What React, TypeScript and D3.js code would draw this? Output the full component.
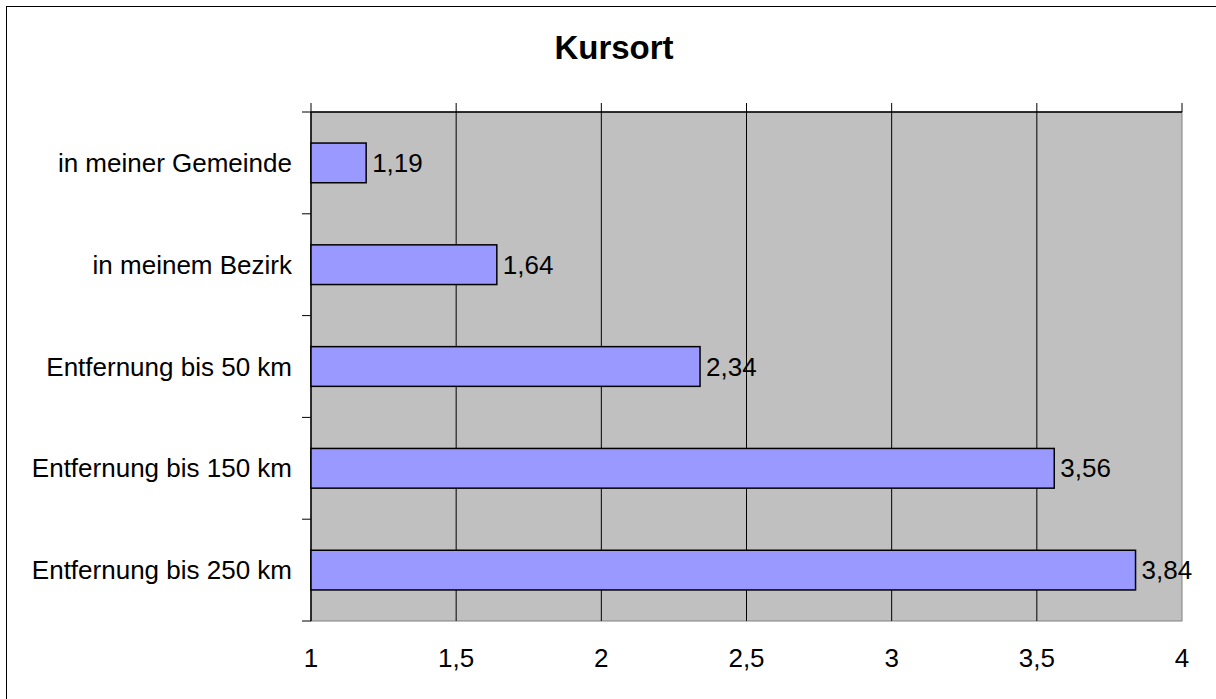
import React from "react";
import * as d3 from "d3";

const categories = [
  "in meiner Gemeinde",
  "in meinem Bezirk",
  "Entfernung bis 50 km",
  "Entfernung bis 150 km",
  "Entfernung bis 250 km",
];
const values = [1.19, 1.64, 2.34, 3.56, 3.84];
const tickValues = [1, 1.5, 2, 2.5, 3, 3.5, 4];
const title = "Kursort";

const fmt = (v: number) => String(v).replace(".", ",");

export default function App() {
  const width = 1216;
  const height = 699;
  const plot = { left: 311, right: 1182, top: 112, bottom: 621 };
  const font = "'Liberation Sans', Arial, sans-serif";
  const fs = 26;

  const x = d3.scaleLinear().domain([1, 4]).range([plot.left, plot.right]);
  const y = d3
    .scaleBand()
    .domain(categories)
    .range([plot.top, plot.bottom])
    .paddingInner(0.61)
    .paddingOuter(0.305);
  const band = d3.scaleBand().domain(categories).range([plot.top, plot.bottom]);
  const edges = [...categories.map((c) => band(c) as number), plot.bottom];

  return (
    <svg
      width={width}
      height={height}
      style={{ position: "absolute", left: 0, top: 0, background: "#fff" }}
    >
      <rect x={6.5} y={6.5} width={1300} height={800} fill="none" stroke="#000" />
      <text
        x={614}
        y={59}
        textAnchor="middle"
        fontFamily={font}
        fontWeight="bold"
        fontSize={33}
      >
        {title}
      </text>

      <rect
        x={plot.left}
        y={plot.top}
        width={plot.right - plot.left}
        height={plot.bottom - plot.top}
        fill="#c0c0c0"
        stroke="#808080"
      />

      {tickValues.slice(1, -1).map((t) => (
        <line
          key={`g${t}`}
          x1={x(t)}
          x2={x(t)}
          y1={plot.top}
          y2={plot.bottom}
          stroke="#000"
        />
      ))}

      {/* value axis at top, labels at the bottom */}
      <line x1={plot.left} x2={plot.right} y1={plot.top} y2={plot.top} stroke="#000" strokeWidth={1.5} />
      {tickValues.map((t) => (
        <line key={`t${t}`} x1={x(t)} x2={x(t)} y1={plot.top - 9} y2={plot.top} stroke="#000" />
      ))}
      {tickValues.map((t) => (
        <text
          key={`l${t}`}
          x={x(t)}
          y={667}
          textAnchor="middle"
          fontFamily={font}
          fontSize={fs}
        >
          {fmt(t)}
        </text>
      ))}

      {/* category axis */}
      <line x1={plot.left} x2={plot.left} y1={plot.top} y2={plot.bottom} stroke="#000" strokeWidth={1.5} />
      {edges.map((e, i) => (
        <line key={`c${i}`} x1={plot.left - 9} x2={plot.left} y1={e} y2={e} stroke="#000" />
      ))}
      {categories.map((c) => (
        <text
          key={c}
          x={292}
          y={(band(c) as number) + band.bandwidth() / 2}
          dy="0.35em"
          textAnchor="end"
          fontFamily={font}
          fontSize={fs}
        >
          {c}
        </text>
      ))}

      {categories.map((c, i) => (
        <g key={`b${c}`}>
          <rect
            x={x(1)}
            y={y(c)}
            width={x(values[i]) - x(1)}
            height={y.bandwidth()}
            fill="#9999ff"
            stroke="#000"
            strokeWidth={1.5}
          />
          <text
            x={x(values[i]) + 6}
            y={(y(c) as number) + y.bandwidth() / 2}
            dy="0.35em"
            fontFamily={font}
            fontSize={fs}
          >
            {fmt(values[i])}
          </text>
        </g>
      ))}
    </svg>
  );
}
